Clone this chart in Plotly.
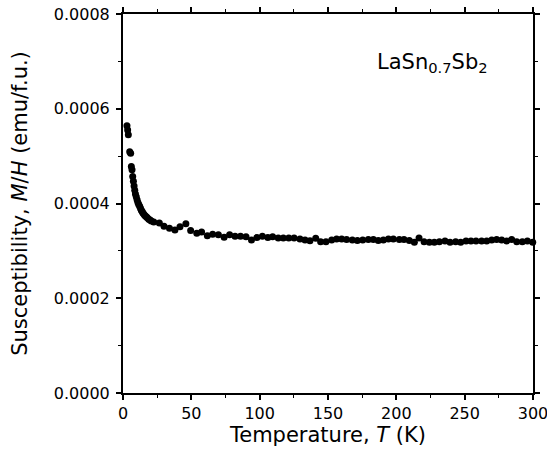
import plotly.graph_objects as go

temperature = [2.9, 3.4, 3.9, 4.9, 5.6, 6.1, 6.6, 7.1, 7.6, 8.1, 8.6, 9.1, 9.7, 10.3, 10.9, 11.5,
               12.2, 12.8, 13.4, 14.0, 14.6, 15.4, 16.2, 17.0, 17.8, 18.8, 19.8, 20.7, 22.5, 26.6,
               30, 34, 38, 41.7, 46, 49.5, 54, 57.5, 61.7, 65.6, 69.8, 74, 78, 82, 86, 90, 94, 98,
               102, 106, 109.5, 113.6, 117.3, 121.3, 125.2,
               129.5, 133.2, 136.8, 141, 144.6, 148.5, 152.7, 156.3, 160, 163.6, 167.8, 171.5,
               175.4, 179.5, 183.2, 186.8, 190.5, 194.2, 197.8, 202.2, 205.6, 209.5, 213.2, 216.6,
               220.3, 224.2, 227.8, 231.5, 235.6, 239.3, 243.4, 247.1, 251, 254.6, 258.3, 262.4,
               266.1, 269.8, 273.4, 277.1, 280.8, 284.4, 288.1, 292.2, 295.9, 299.8]

susceptibility = [0.000564, 0.000555, 0.000545, 0.000509, 0.000506, 0.000478, 0.000471, 0.000457,
                  0.000447, 0.000437, 0.000428, 0.000420, 0.000414, 0.000408, 0.000402, 0.000398,
                  0.000394, 0.000390, 0.000386, 0.000383, 0.000380, 0.000377, 0.000374, 0.000372,
                  0.000370, 0.000367, 0.000365, 0.000363, 0.000361, 0.000359,
                  0.000352, 0.000348, 0.000344, 0.000351, 0.000357, 0.000343, 0.000337, 0.000340,
                  0.000332, 0.000335, 0.000334, 0.000329, 0.000334, 0.000331, 0.000331, 0.000330,
                  0.000323, 0.000328, 0.000331, 0.000328, 0.000330, 0.000327, 0.000327, 0.000327,
                  0.000327,
                  0.000325, 0.000323, 0.0003215, 0.0003265, 0.000319, 0.000319, 0.000323, 0.000325,
                  0.000325, 0.000324, 0.000323, 0.000322, 0.000323, 0.000324, 0.000324, 0.000322,
                  0.000323, 0.000325, 0.000325, 0.000324, 0.000324, 0.000322, 0.000318, 0.000327,
                  0.000319, 0.000318, 0.000318, 0.000319, 0.000321, 0.000318, 0.000319, 0.000318,
                  0.000321, 0.000321, 0.000321, 0.000321, 0.000321, 0.000323, 0.000324, 0.000323,
                  0.000321, 0.000324, 0.000319, 0.000319, 0.000321, 0.000318]

x_ticks = [0, 50, 100, 150, 200, 250, 300]
y_ticks = [0.0000, 0.0002, 0.0004, 0.0006, 0.0008]
y_tick_labels = ["0.0000", "0.0002", "0.0004", "0.0006", "0.0008"]

FONT = "DejaVu Sans, Liberation Sans, Arial, sans-serif"

fig = go.Figure()
fig.add_trace(go.Scatter(
    x=temperature, y=susceptibility, mode="markers",
    marker=dict(color="black", size=7, symbol="circle"),
    showlegend=False, cliponaxis=False,
))

axis_common = dict(
    showgrid=False, zeroline=False, showline=True, linecolor="black", linewidth=2,
    mirror="ticks", ticks="outside", ticklen=5, tickwidth=1.5, tickcolor="black",
    tickfont=dict(family=FONT, size=16, color="black"),
    automargin=False, ticklabeloverflow="allow",
)

fig.update_layout(
    width=547, height=453,
    margin=dict(l=123, r=14, t=14, b=60),
    plot_bgcolor="white", paper_bgcolor="white",
    xaxis=dict(
        range=[0, 300], tickvals=x_ticks,
        minor=dict(dtick=25, ticks="outside", ticklen=3, tickwidth=1.2, tickcolor="black"),
        title=dict(text="Temperature, <i>T</i> (K)", font=dict(family=FONT, size=21, color="black"), standoff=5),
        **axis_common,
    ),
    yaxis=dict(
        range=[0, 0.0008], tickvals=y_ticks, ticktext=y_tick_labels, ticklabelstandoff=3,
        minor=dict(dtick=0.0001, ticks="outside", ticklen=3, tickwidth=1.2, tickcolor="black"),
        title=dict(text="Susceptibility, <i>M</i>/<i>H</i> (emu/f.u.)", font=dict(family=FONT, size=21, color="black"), standoff=20),
        **axis_common,
    ),
    annotations=[dict(
        x=0.895, y=0.87, xref="paper", yref="paper", xanchor="right", yanchor="middle",
        text="LaSn<sub>0.7</sub>Sb<sub>2</sub>", showarrow=False,
        font=dict(family=FONT, size=21, color="black"),
    )],
)

fig.write_html("out.html")
